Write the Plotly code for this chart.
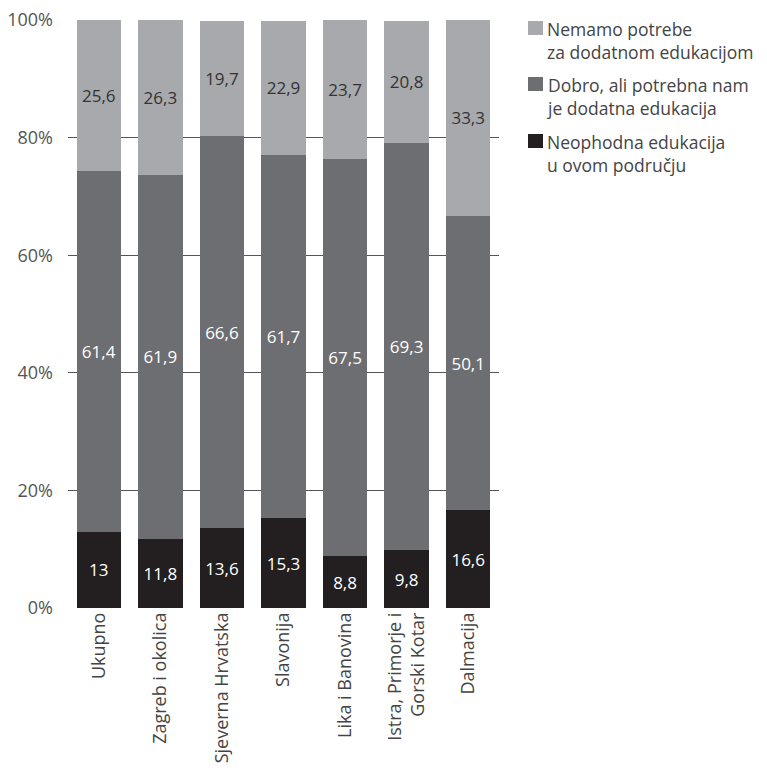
import plotly.graph_objects as go

categories = ["Ukupno", "Zagreb i okolica", "Sjeverna Hrvatska", "Slavonija",
              "Lika i Banovina", "Istra, Primorje i<br>Gorski Kotar", "Dalmacija"]
neophodna = [13, 11.8, 13.6, 15.3, 8.8, 9.8, 16.6]
dobro = [61.4, 61.9, 66.6, 61.7, 67.5, 69.3, 50.1]
nemamo = [25.6, 26.3, 19.7, 22.9, 23.7, 20.8, 33.3]

series_names = ["Neophodna edukacija<br>u ovom području",
                "Dobro, ali potrebna nam<br>je dodatna edukacija",
                "Nemamo potrebe<br>za dodatnom edukacijom"]
colors = ["#231f20", "#6d6e71", "#a7a9ac"]
text_colors = ["#ffffff", "#ffffff", "#333333"]

FONT = "Open Sans"
W, H = 767, 772
L, R, T, B = 68, 268, 20, 164
PW, PH = W - L - R, H - T - B


def fmt(v):
    return f"{v:g}".replace(".", ",")


def px2x(px):
    return (px - L) / PW


def px2y(py):
    return (H - B - py) / PH


fig = go.Figure()
for name, vals, col, tcol in zip(series_names, [neophodna, dobro, nemamo], colors, text_colors):
    fig.add_trace(go.Bar(
        x=categories, y=vals, name=name,
        marker=dict(color=col, line=dict(width=0)),
        text=[fmt(v) for v in vals],
        textposition="inside", insidetextanchor="middle", textangle=0,
        constraintext="none",
        textfont=dict(color=tcol, size=17, family=FONT),
        showlegend=False,
    ))

# custom legend (top item = top of stack)
legend_centers = [28, 84, 141]
for name, col, cy in zip(reversed(series_names), reversed(colors), legend_centers):
    fig.add_shape(type="rect", xref="paper", yref="paper",
                  x0=px2x(528), x1=px2x(543), y0=px2y(cy + 7), y1=px2y(cy - 7),
                  fillcolor=col, line=dict(width=0))
    fig.add_annotation(xref="paper", yref="paper", x=px2x(545), y=px2y(cy - 13),
                       xanchor="left", yanchor="top", align="left", showarrow=False,
                       text=name, font=dict(family=FONT, size=17.5, color="#444444"))

fig.update_layout(
    width=W, height=H,
    barmode="stack", bargap=0.28,
    margin=dict(l=L, r=R, t=T, b=B),
    plot_bgcolor="white", paper_bgcolor="white",
    font=dict(family=FONT, size=17, color="#444444"),
    showlegend=False,
)
fig.update_yaxes(range=[0, 100], tickvals=[0, 20, 40, 60, 80, 100],
                 ticktext=["0%", "20%", "40%", "60%", "80%", "100%"],
                 showgrid=True, gridcolor="#555555", gridwidth=1, zeroline=False,
                 showline=False, ticks="", ticklabelstandoff=14, automargin=False,
                 tickfont=dict(size=18, color="#555555"))
fig.update_xaxes(tickangle=-90, showline=False, ticks="", automargin=False,
                 tickfont=dict(size=18, color="#444444"))

fig.write_html("out.html", config={"displayModeBar": False},
               post_script="document.body.style.margin='0px';")
